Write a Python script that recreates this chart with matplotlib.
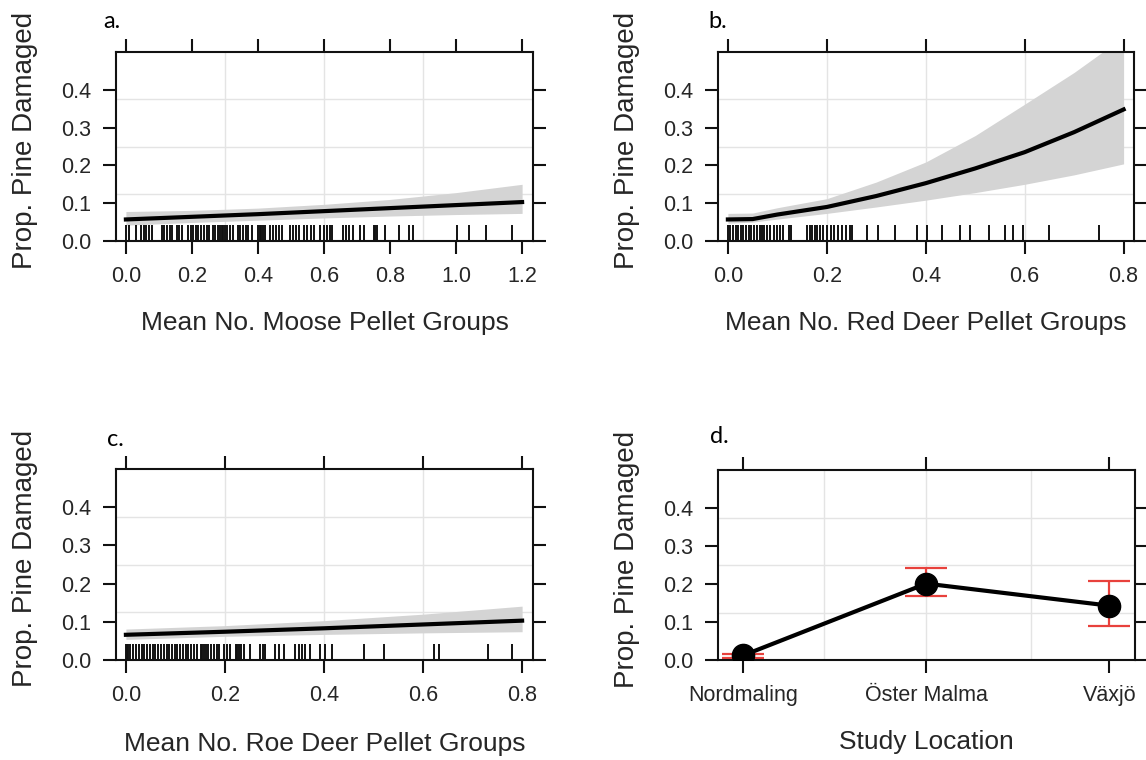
import numpy as np
import matplotlib
matplotlib.use("Agg")
import matplotlib.pyplot as plt

plt.rcParams["font.family"] = ["Liberation Sans", "DejaVu Sans"]

# fitted effect curves (x, fit, lower, upper)
moose_x = [0.0, 0.2, 0.4, 0.6, 0.8, 1.0, 1.2]
moose_fit = [0.057, 0.064, 0.071, 0.079, 0.087, 0.095, 0.103]
moose_lo = [0.042, 0.049, 0.055, 0.061, 0.066, 0.070, 0.073]
moose_hi = [0.078, 0.081, 0.087, 0.097, 0.110, 0.128, 0.150]

red_x = [0.0, 0.05, 0.1, 0.2, 0.3, 0.4, 0.5, 0.6, 0.7, 0.8]
red_fit = [0.057, 0.058, 0.070, 0.090, 0.119, 0.153, 0.192, 0.235, 0.288, 0.348]
red_lo = [0.047, 0.050, 0.058, 0.073, 0.090, 0.108, 0.128, 0.150, 0.175, 0.204]
red_hi = [0.073, 0.074, 0.088, 0.112, 0.156, 0.209, 0.279, 0.362, 0.446, 0.540]

roe_x = [0.0, 0.2, 0.4, 0.6, 0.8]
roe_fit = [0.066, 0.074, 0.083, 0.093, 0.103]
roe_lo = [0.054, 0.062, 0.067, 0.071, 0.074]
roe_hi = [0.081, 0.090, 0.103, 0.120, 0.141]

# observed covariate values (rug)
moose_rug = [0.0, 0.009, 0.03, 0.045, 0.054, 0.062, 0.071, 0.079, 0.108, 0.116,
             0.125, 0.134, 0.139, 0.154, 0.162, 0.17, 0.189, 0.197, 0.202, 0.212,
             0.217, 0.226, 0.238, 0.245, 0.253, 0.263, 0.271, 0.28, 0.285, 0.29,
             0.295, 0.3, 0.305, 0.315, 0.324, 0.339, 0.346, 0.354, 0.363, 0.371,
             0.381, 0.401, 0.405, 0.41, 0.415, 0.42, 0.437, 0.447, 0.455, 0.464,
             0.474, 0.497, 0.506, 0.515, 0.523, 0.54, 0.548, 0.561, 0.57, 0.588,
             0.599, 0.609, 0.617, 0.624, 0.659, 0.666, 0.677, 0.687, 0.71, 0.72,
             0.75, 0.755, 0.76, 0.786, 0.827, 0.858, 0.871, 1.003, 1.038, 1.091,
             1.168]
red_rug = [0.0, 0.005, 0.011, 0.016, 0.021, 0.026, 0.031, 0.036, 0.042, 0.047,
           0.052, 0.058, 0.064, 0.069, 0.074, 0.08, 0.086, 0.093, 0.099, 0.106,
           0.111, 0.123, 0.128, 0.16, 0.165, 0.171, 0.177, 0.181, 0.187, 0.193,
           0.2, 0.208, 0.215, 0.222, 0.23, 0.238, 0.247, 0.25, 0.281, 0.303,
           0.338, 0.383, 0.403, 0.432, 0.469, 0.49, 0.528, 0.56, 0.577, 0.597,
           0.65, 0.751]
roe_rug = [0.0, 0.002, 0.005, 0.009, 0.015, 0.02, 0.026, 0.032, 0.037, 0.042,
           0.048, 0.054, 0.059, 0.065, 0.071, 0.076, 0.082, 0.087, 0.093, 0.099,
           0.104, 0.11, 0.116, 0.121, 0.126, 0.132, 0.138, 0.143, 0.151, 0.154,
           0.158, 0.161, 0.166, 0.171, 0.177, 0.183, 0.188, 0.198, 0.205, 0.21,
           0.222, 0.225, 0.228, 0.232, 0.239, 0.251, 0.271, 0.276, 0.28, 0.302,
           0.309, 0.319, 0.341, 0.349, 0.355, 0.362, 0.371, 0.392, 0.403, 0.417,
           0.481, 0.522, 0.622, 0.632, 0.731, 0.78]

# study location effect
sites = ["Nordmaling", "Öster Malma", "Växjö"]
site_fit = [0.012, 0.201, 0.143]
site_lo = [0.005, 0.168, 0.090]
site_hi = [0.017, 0.241, 0.208]

y_ticks = [0.0, 0.1, 0.2, 0.3, 0.4]
y_grid = [0.125, 0.25, 0.375]

fig = plt.figure(figsize=(11.46, 7.6), dpi=100)
W, H = 1146, 760


def make_axes(left, right, top, bottom):
    return fig.add_axes([left / W, 1 - bottom / H, (right - left) / W, (bottom - top) / H])


def style_axes(ax, xticks, xgrid, xlim, xlabel, xlab_y):
    ax.set_ylim(0, 0.5)
    ax.set_xlim(*xlim)
    ax.set_yticks(y_ticks)
    ax.set_yticklabels(["%.1f" % v for v in y_ticks])
    ax.set_xticks(xticks)
    for g in y_grid:
        ax.axhline(g, color="#e4e4e4", lw=1.0, zorder=0)
    for g in xgrid:
        ax.axvline(g, color="#e4e4e4", lw=1.0, zorder=0)
    for sp in ax.spines.values():
        sp.set_linewidth(1.5)
        sp.set_color("#111111")
    ax.tick_params(axis="both", which="major", direction="out", length=9.5,
                   width=1.5, color="#111111", top=True, right=True,
                   labeltop=False, labelright=False, labelsize=15.5,
                   labelcolor="#262626", pad=8.5)
    ax.set_xlabel(xlabel, fontsize=19, color="#262626", va="center")
    ax.xaxis.set_label_coords(0.5, xlab_y)
    ax.set_ylabel("Prop. Pine Damaged", fontsize=20, color="#262626", va="center")
    ax.yaxis.set_label_coords(-0.218, 0.53)


def effect_panel(ax, x, fit, lo, hi, rug):
    ax.fill_between(x, lo, hi, color="#d4d4d4", lw=0, zorder=1)
    ax.plot(x, fit, color="black", lw=3.0, zorder=3)
    ax.vlines(rug, 0, 0.085, transform=ax.get_xaxis_transform(),
              color="#111111", lw=1.4, zorder=2)


# a. moose
ax_a = make_axes(116, 533, 52, 241)
effect_panel(ax_a, moose_x, moose_fit, moose_lo, moose_hi, moose_rug)
style_axes(ax_a, [0.0, 0.2, 0.4, 0.6, 0.8, 1.0, 1.2], [0.3, 0.6, 0.9],
           (-0.030, 1.233), "Mean No. Moose Pellet Groups", -0.434)

# b. red deer
ax_b = make_axes(718, 1134, 52, 241)
effect_panel(ax_b, red_x, red_fit, red_lo, red_hi, red_rug)
style_axes(ax_b, [0.0, 0.2, 0.4, 0.6, 0.8], [0.2, 0.4, 0.6],
           (-0.020, 0.821), "Mean No. Red Deer Pellet Groups", -0.434)

# c. roe deer
ax_c = make_axes(116, 533, 469, 660)
effect_panel(ax_c, roe_x, roe_fit, roe_lo, roe_hi, roe_rug)
style_axes(ax_c, [0.0, 0.2, 0.4, 0.6, 0.8], [0.2, 0.4, 0.6],
           (-0.020, 0.822), "Mean No. Roe Deer Pellet Groups", -0.44)

# d. study location
ax_d = make_axes(718, 1135, 470, 660)
pos = np.arange(1, len(sites) + 1)
ax_d.plot(pos, site_fit, color="black", lw=3.0, marker="o", ms=16, zorder=3)
err = [np.array(site_fit) - np.array(site_lo), np.array(site_hi) - np.array(site_fit)]
ax_d.errorbar(pos, site_fit, yerr=err, fmt="none", ecolor="#e8413c",
              elinewidth=1.6, capsize=15, capthick=1.6, zorder=2)
style_axes(ax_d, pos, [1.44, 2.0, 2.57], (0.863, 3.14), "Study Location", -0.43)
ax_d.set_xticklabels(sites)

# panel letters
for lab, x0, y0 in [("a.", 103, 28), ("b.", 708, 28), ("c.", 107, 446), ("d.", 710, 443)]:
    fig.text(x0 / W, 1 - y0 / H, lab, fontsize=17, family=["Lato", "DejaVu Sans"],
             va="baseline", ha="left", color="black")

fig.savefig("out.png", dpi=100)
